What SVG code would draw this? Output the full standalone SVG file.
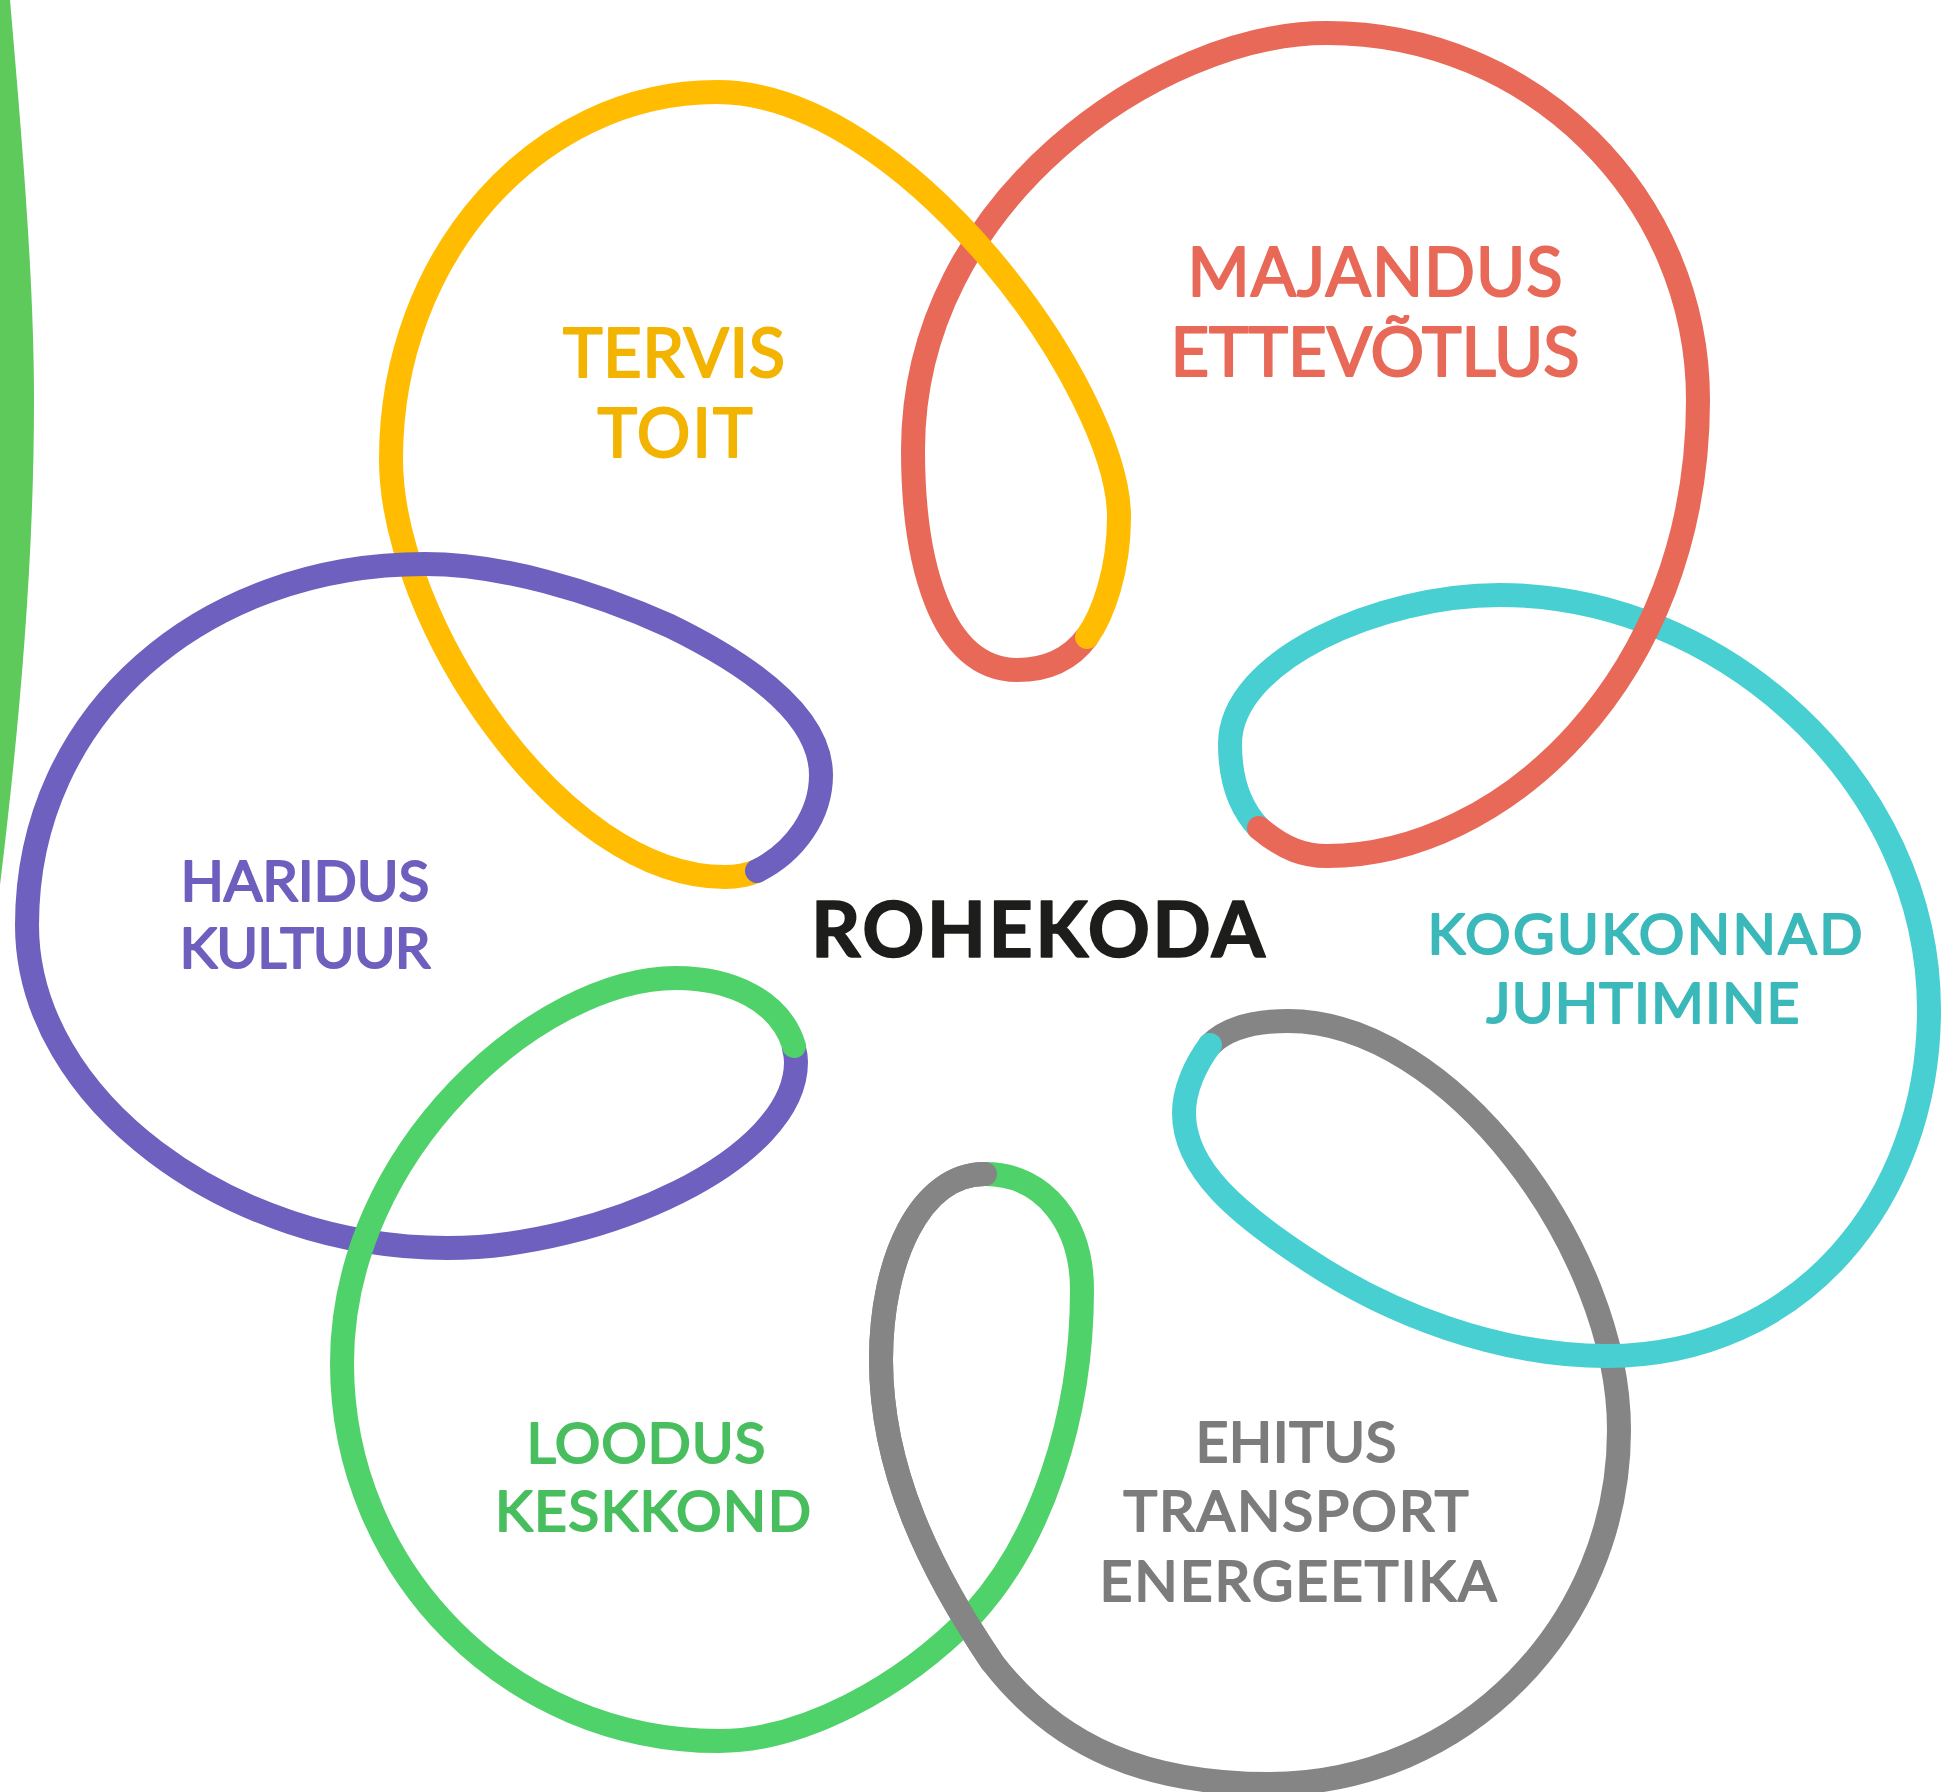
<svg xmlns="http://www.w3.org/2000/svg" width="1945" height="1792" viewBox="0 0 1945 1792">
<style>
.loop{fill:none;stroke-width:24;stroke-linecap:round;stroke-linejoin:round}
.lbl{font-family:Lato,"Noto Sans","Liberation Sans",sans-serif;font-weight:400;text-anchor:middle;stroke-width:2;stroke-linejoin:round}
.big{font-size:67px}
.sm{font-size:57px}
.title{font-family:Lato,"Noto Sans","Liberation Sans",sans-serif;font-weight:700;font-size:77px;text-anchor:middle;fill:#1d1d1b;stroke:#1d1d1b;stroke-width:1.6;stroke-linejoin:round}
</style>
<rect width="1945" height="1792" fill="#ffffff"/>
<path id="edge-leaf" d="M0,0 L10,0 C22,140 34,280 34,400 C34,560 20,720 0,885 Z" fill="#5fca5c"/>
<g id="connectors">
<path class="loop" stroke="#858585" d="M985,1174 C920,1174 881,1260 881,1360 C881,1470 930,1570 992,1662 C1060,1750 1150,1784 1270,1784 C1463,1784 1619,1625 1619,1430 C1619,1250 1450,1021 1288,1021 C1250,1021 1225,1030 1210,1045"/>
<path class="loop" stroke="#48cfd2" d="M1210,1045 C1195,1065 1184,1090 1184,1113 C1184,1170 1240,1215 1305,1258 C1390,1315 1500,1356 1607,1356 C1800,1356 1929,1200 1929,1010 C1929,780 1720,595 1500,595 C1380,595 1230,660 1230,744 C1230,780 1240,808 1259,828"/>
<path class="loop" stroke="#e86958" d="M1259,828 C1285,850 1305,856 1327,856 C1500,856 1698,680 1698,400 C1698,197 1532,33 1327,33 C1160,33 913,200 913,450 C913,560 940,670 1017,670 C1045,670 1070,660 1087,637"/>
<path class="loop" stroke="#ffbc00" d="M1087,637 C1103,615 1119,570 1119,517 C1119,390 905,92 717,92 C537,92 391,256 391,459 C391,620 560,877 725,877 C740,877 750,874 757,871"/>
<path class="loop" stroke="#6e60be" d="M757,871 C795,852 821,815 821,775 C821,720 760,670 670,626 C590,590 500,564 425,564 C205,564 27,712 27,925 C27,1100 230,1248 447,1248 C600,1248 796,1160 796,1062 C796,1056 795,1052 794,1048"/>
<path class="loop" stroke="#50d26a" d="M794,1046 C780,1000 730,978 676,978 C540,978 342,1150 342,1363 C342,1572 510,1741 719,1741 C800,1741 900,1690 974,1613 C1040,1540 1082,1420 1082,1290 C1082,1225 1045,1174 985,1174"/>
<path class="loop" stroke="#858585" d="M985,1174 C920,1174 881,1260 881,1360 C881,1470 930,1570 992,1662"/>
</g>
<g id="node-center">
<text class="title" x="1038" y="957" textLength="454" lengthAdjust="spacing">ROHEKODA</text>
</g>
<g id="node-tervis" fill="#f2b400" stroke="#f2b400">
<text class="lbl big" x="674" y="377" textLength="222" lengthAdjust="spacing">TERVIS</text>
<text class="lbl big" x="675" y="457" textLength="155" lengthAdjust="spacing">TOIT</text>
</g>
<g id="node-majandus" fill="#e86958" stroke="#e86958">
<text class="lbl big" x="1375" y="296" textLength="375" lengthAdjust="spacing">MAJANDUS</text>
<text class="lbl big" x="1375" y="376" textLength="409" lengthAdjust="spacing">ETTEVÕTLUS</text>
</g>
<g id="node-haridus" fill="#6e5fbf" stroke="#6e5fbf">
<text class="lbl sm" x="305" y="901" textLength="249" lengthAdjust="spacing">HARIDUS</text>
<text class="lbl sm" x="305" y="968" textLength="251" lengthAdjust="spacing">KULTUUR</text>
</g>
<g id="node-kogukonnad" fill="#3bb8ba" stroke="#3bb8ba">
<text class="lbl sm" x="1645" y="954" textLength="435" lengthAdjust="spacing">KOGUKONNAD</text>
<text class="lbl sm" x="1643" y="1023" textLength="313" lengthAdjust="spacing">JUHTIMINE</text>
</g>
<g id="node-loodus" fill="#48be5e" stroke="#48be5e">
<text class="lbl sm" x="646" y="1463" textLength="239" lengthAdjust="spacing">LOODUS</text>
<text class="lbl sm" x="653" y="1531" textLength="316" lengthAdjust="spacing">KESKKOND</text>
</g>
<g id="node-ehitus" fill="#7c7c7c" stroke="#7c7c7c">
<text class="lbl sm" x="1296" y="1462" textLength="201" lengthAdjust="spacing">EHITUS</text>
<text class="lbl sm" x="1296" y="1531" textLength="345" lengthAdjust="spacing">TRANSPORT</text>
<text class="lbl sm" x="1298" y="1601" textLength="397" lengthAdjust="spacing">ENERGEETIKA</text>
</g>
</svg>
